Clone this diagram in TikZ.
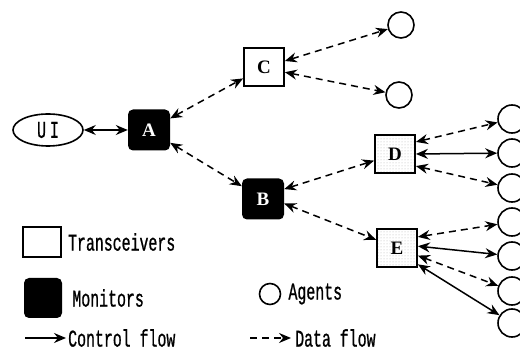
\documentclass[tikz,border=0pt]{standalone}
\usepackage{fontspec}
\setmainfont{Liberation Serif}
\newfontfamily\monofont[FakeStretch=0.62,FakeBold=0.8]{Liberation Mono}
\usepackage{tikz}
\usetikzlibrary{arrows.meta,positioning,patterns,shapes.geometric}

\begin{document}
\begin{tikzpicture}[x=1pt, y=-1pt,
  mon/.style={fill=black, rounded corners=5pt, minimum width=42pt, minimum height=41pt, inner sep=0pt,
    text=white, font=\fontsize{19}{19}\selectfont\bfseries},
  trx/.style={draw, line width=1.8pt, fill=white, minimum width=40pt, minimum height=38pt, inner sep=0pt,
    font=\fontsize{19}{19}\selectfont\bfseries},
  noisy/.style={trx, pattern=dots, pattern color=gray!60},
  agent/.style={draw, circle, line width=1.6pt, minimum size=28pt, inner sep=0pt},
  lab/.style={font=\monofont\fontsize{24}{24}\selectfont, anchor=west, inner sep=0pt},
  arr/.style={{Stealth[length=12pt,width=10pt,inset=4pt]}-{Stealth[length=12pt,width=10pt,inset=4pt]}, line width=1.5pt},
  dat/.style={arr, dash pattern=on 7pt off 5pt},
  one/.style={-{Stealth[length=12pt,width=10pt,inset=4pt]}, line width=1.5pt}]
  \useasboundingbox (0,0) rectangle (520,358);
  % monitors and transceivers
  \node[draw, ellipse, line width=1.6pt, minimum width=70pt, minimum height=32pt, inner sep=0pt,
    font=\monofont\fontsize{24}{24}\selectfont] (ui) at (48,130) {U\,I};
  \node[mon] (a) at (149,130) {A};
  \node[mon] (b) at (263,199) {B};
  \node[trx] (c) at (264,67) {C};
  \node[noisy] (d) at (395,154) {D};
  \node[noisy] (e) at (397,248) {E};
  \draw[arr] (ui) -- (a);
  \draw[dat] (a) -- (c);
  \draw[dat] (a) -- (b);
  \draw[dat] (b.25) -- (d);
  \draw[dat] (b.-12) -- (e);
  % agents
  \node[agent, minimum size=26pt] (c1) at (401,25) {};
  \node[agent, minimum size=26pt] (c2) at (399,95) {};
  \draw[dat] (c.16) -- (c1);
  \draw[dat] (c.-14) -- (c2);
  \foreach \y [count=\i] in {119,153,188,222,256,291,323}
    \node[agent] (r\i) at (512,\y) {};
  \draw[dat] (d.30) -- (r1);
  \draw[arr] (d.0) -- (r2);
  \draw[dat] (d.-30) -- (r3);
  \draw[dat] (e.28) -- (r4);
  \draw[arr] (e.5) -- (r5);
  \draw[dat] (e.-20) -- (r6);
  \draw[arr] (e.-38) -- (r7);
  % legend
  \node[trx, minimum width=38pt, minimum height=30pt] (ltrx) at (42,242) {};
  \node[lab, right=6pt of ltrx] (ttrx) {Transceivers};
  \node[mon, minimum width=38pt, minimum height=40pt] (lmon) at (43,298) {};
  \node[lab, right=10pt of lmon] (tmon) {Monitors};
  \node[agent, minimum size=21pt] (lag) at (270,294) {};
  \node[lab, right=7pt of lag] (tag) {Agents};
  \coordinate (cf0) at (25,338);
  \coordinate (cf1) at (66,338);
  \draw[one] (cf0) -- (cf1);
  \node[lab, right=2pt of cf1] (tcf) {Control flow};
  \coordinate (df0) at (250,338);
  \coordinate (df1) at (291,338);
  \draw[one, dash pattern=on 7pt off 5pt] (df0) -- (df1);
  \node[lab, right=4pt of df1] (tdf) {Data flow};
\end{tikzpicture}
\end{document}
